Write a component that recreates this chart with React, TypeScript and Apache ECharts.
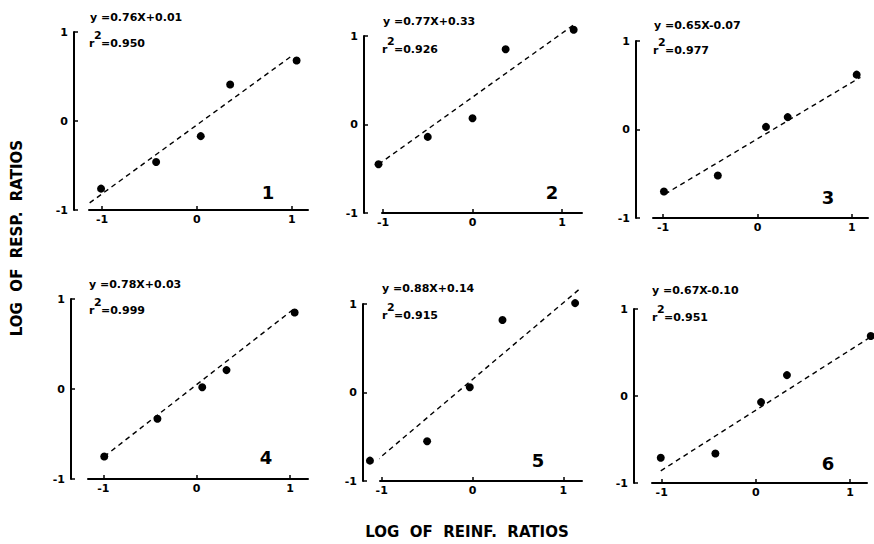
import React, { useEffect, useRef } from "react";
import * as echarts from "echarts";

// ---- data ----
const panelNames = ["1", "2", "3", "4", "5", "6"];
const equations = [
  "y =0.76X+0.01",
  "y =0.77X+0.33",
  "y =0.65X-0.07",
  "y =0.78X+0.03",
  "y =0.88X+0.14",
  "y =0.67X-0.10",
];
const rSquared = ["0.950", "0.926", "0.977", "0.999", "0.915", "0.951"];

const panel1X = [-1.01, -0.43, 0.04, 0.35, 1.05];
const panel1Y = [-0.76, -0.46, -0.17, 0.41, 0.68];
const panel2X = [-1.05, -0.5, 0.0, 0.37, 1.13];
const panel2Y = [-0.45, -0.14, 0.07, 0.85, 1.07];
const panel3X = [-0.99, -0.42, 0.09, 0.32, 1.05];
const panel3Y = [-0.7, -0.52, 0.03, 0.14, 0.62];
const panel4X = [-0.99, -0.42, 0.06, 0.32, 1.05];
const panel4Y = [-0.75, -0.33, 0.02, 0.21, 0.85];
const panel5X = [-1.13, -0.5, -0.03, 0.33, 1.13];
const panel5Y = [-0.77, -0.55, 0.06, 0.82, 1.01];
const panel6X = [-1.01, -0.43, 0.055, 0.33, 1.22];
const panel6Y = [-0.71, -0.66, -0.07, 0.24, 0.69];

// fitted-line end points as drawn
const lineStartX = [-1.13, -1.05, -0.98, -0.99, -1.07, -1.01];
const lineStartY = [-0.92, -0.45, -0.73, -0.75, -0.78, -0.86];
const lineEndX = [1.01, 1.15, 1.09, 1.03, 1.18, 1.25];
const lineEndY = [0.74, 1.14, 0.59, 0.88, 1.17, 0.7];

const tickValues = [-1, 0, 1];
const xTitle = "LOG  OF  REINF.  RATIOS";
const yTitle = "LOG  OF  RESP.  RATIOS";

const panelX = [panel1X, panel2X, panel3X, panel4X, panel5X, panel6X];
const panelY = [panel1Y, panel2Y, panel3Y, panel4Y, panel5Y, panel6Y];

// ---- layout (pixels) ----
const layout = [
  { left: 89, top: 32, width: 219, height: 178, yOffset: 15, xMin: -1.137, xMax: 1.17 },
  { left: 382, top: 36, width: 200, height: 177, yOffset: 18, xMin: -1.011, xMax: 1.223 },
  { left: 653, top: 41, width: 215, height: 177, yOffset: 17, xMin: -1.106, xMax: 1.17 },
  { left: 88, top: 299, width: 220, height: 180, yOffset: 17, xMin: -1.164, xMax: 1.193 },
  { left: 380, top: 304, width: 202, height: 177, yOffset: 17, xMin: -1.019, xMax: 1.206 },
  { left: 652, top: 309, width: 215, height: 174, yOffset: 18, xMin: -1.103, xMax: 1.18 },
];
const eqPos = [
  [90, 17],
  [383, 21],
  [654, 25],
  [89, 284],
  [382, 288],
  [652, 290],
];
const rPos = [
  [89, 43],
  [382, 49],
  [653, 50],
  [89, 310],
  [382, 315],
  [652, 317],
];
const numPos = [
  [268, 192],
  [552, 192],
  [828, 197],
  [266, 457],
  [538, 460],
  [828, 463],
];

const FONT = "DejaVu Sans";

export default function App() {
  const ref = useRef<HTMLDivElement>(null);

  useEffect(() => {
    if (!ref.current) return;
    const chart = echarts.init(ref.current, undefined, { renderer: "svg" });

    const axisLine = { show: true, onZero: false, lineStyle: { color: "#000", width: 2 } };
    const tickStyle = { color: "#000", width: 1.5 };
    const labelStyle = { color: "#000", fontFamily: FONT, fontWeight: "bold" as const, fontSize: 11 };

    const grids = layout.map((g) => ({
      left: g.left,
      top: g.top,
      width: g.width,
      height: g.height,
      containLabel: false,
      outerBoundsMode: "none",
    }));

    const xAxes = layout.map((g, i) => ({
      gridIndex: i,
      type: "value",
      min: g.xMin,
      max: g.xMax,
      axisLine,
      axisTick: { show: true, inside: true, length: 4, customValues: tickValues, lineStyle: tickStyle },
      axisLabel: { ...labelStyle, margin: 4, customValues: tickValues, formatter: (v: number) => String(v) },
      splitLine: { show: false },
    }));

    const yAxes = layout.map((g, i) => ({
      gridIndex: i,
      type: "value",
      min: -1,
      max: 1,
      interval: 1,
      offset: g.yOffset,
      axisLine,
      axisTick: { show: true, inside: true, length: 4, lineStyle: tickStyle },
      axisLabel: { ...labelStyle, margin: 6, formatter: (v: number) => String(v) },
      splitLine: { show: false },
    }));

    const series: any[] = [];
    panelX.forEach((xs, i) => {
      series.push({
        type: "line",
        xAxisIndex: i,
        yAxisIndex: i,
        data: [
          [lineStartX[i], lineStartY[i]],
          [lineEndX[i], lineEndY[i]],
        ],
        symbol: "none",
        clip: false,
        lineStyle: { color: "#000", width: 1.4, type: [5, 4] },
        silent: true,
      });
      series.push({
        type: "scatter",
        xAxisIndex: i,
        yAxisIndex: i,
        data: xs.map((x, k) => [x, panelY[i][k]]),
        symbol: "circle",
        symbolSize: 8,
        clip: false,
        itemStyle: { color: "#000", opacity: 1 },
      });
    });

    const graphics: any[] = [];
    panelNames.forEach((name, i) => {
      const txt = { fill: "#000", fontFamily: FONT, fontWeight: "bold", fontSize: 11 };
      graphics.push({
        type: "text",
        x: eqPos[i][0],
        y: eqPos[i][1],
        style: { ...txt, text: equations[i], align: "left", verticalAlign: "middle" },
      });
      graphics.push({
        type: "text",
        x: rPos[i][0],
        y: rPos[i][1],
        style: { ...txt, text: "r", align: "left", verticalAlign: "middle" },
      });
      graphics.push({
        type: "text",
        x: rPos[i][0] + 5,
        y: rPos[i][1] - 8,
        style: { ...txt, text: "2", align: "left", verticalAlign: "middle" },
      });
      graphics.push({
        type: "text",
        x: rPos[i][0] + 12,
        y: rPos[i][1],
        style: { ...txt, text: "=" + rSquared[i], align: "left", verticalAlign: "middle" },
      });
      graphics.push({
        type: "text",
        x: numPos[i][0],
        y: numPos[i][1],
        style: {
          text: name,
          fill: "#000",
          fontFamily: FONT,
          fontWeight: "bold",
          fontSize: 18,
          align: "center",
          verticalAlign: "middle",
        },
      });
    });
    graphics.push({
      type: "text",
      x: 467,
      y: 532,
      style: {
        text: xTitle,
        fill: "#000",
        fontFamily: FONT,
        fontWeight: "bold",
        fontSize: 15,
        align: "center",
        verticalAlign: "middle",
      },
    });
    graphics.push({
      type: "text",
      x: 17,
      y: 238,
      rotation: Math.PI / 2,
      style: {
        text: yTitle,
        fill: "#000",
        fontFamily: FONT,
        fontWeight: "bold",
        fontSize: 15,
        align: "center",
        verticalAlign: "middle",
      },
    });

    chart.setOption({
      animation: false,
      backgroundColor: "#fff",
      grid: grids,
      xAxis: xAxes,
      yAxis: yAxes,
      series,
      graphic: graphics,
    });

    return () => chart.dispose();
  }, []);

  return (
    <div
      ref={ref}
      style={{ position: "fixed", left: 0, top: 0, width: 874, height: 544, background: "#fff" }}
    />
  );
}
